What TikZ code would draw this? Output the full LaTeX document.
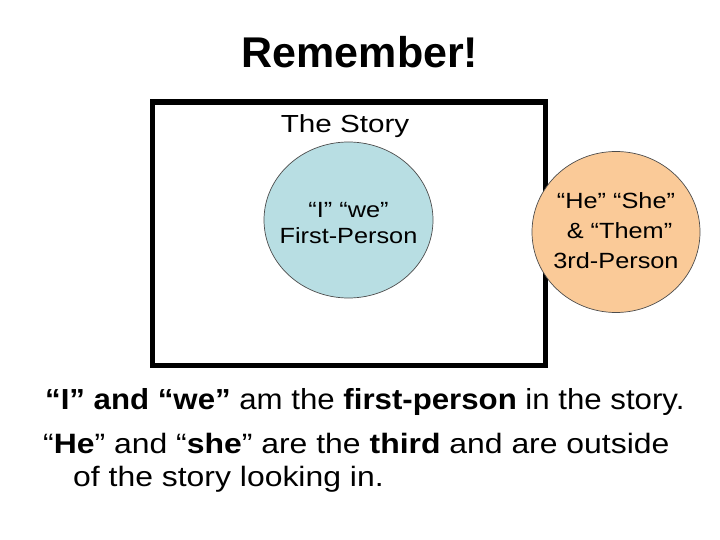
\documentclass[tikz,border=0pt]{standalone}
\usepackage{fontspec}
\setmainfont{Liberation Sans}
\usetikzlibrary{shapes.geometric}
\definecolor{firstblue}{RGB}{184,222,227}
\definecolor{thirdpeach}{RGB}{250,202,152}
\newcommand{\wide}[2]{\scalebox{#1}[1]{#2}}
\begin{document}
\begin{tikzpicture}[x=1pt,y=-1pt,
    bubble/.style={ellipse, draw=black!70, line width=0.7pt, inner sep=0pt},
    bubbletext/.style={inner sep=0pt, align=center},
    note/.style={anchor=base west, inner sep=0pt}]
    \useasboundingbox (0,0) rectangle (720,540);
    \node (title) [anchor=base, inner sep=0pt] at (360,68) {\fontsize{43}{50}\selectfont\bfseries Remember!};
    \node (story) [rectangle, draw=black, line width=5.5pt, minimum width=393pt, minimum height=263.5pt] at (349,233.75) {};
    \node (storylabel) [anchor=base, inner sep=0pt] at (345,133) {\fontsize{24.7}{28}\selectfont\wide{1.2}{The Story}};
    \node (first) [bubble, fill=firstblue, minimum width=169pt, minimum height=156pt] at (348.5,220) {};
    \node (third) [bubble, fill=thirdpeach, minimum width=168pt, minimum height=161pt] at (616,232) {};
    \node (firsttext) [bubbletext] at ([yshift=-5.8pt]first.center)
        {\fontsize{22}{26}\selectfont\wide{1.15}{\begin{tabular}{@{}c@{}}“I” “we”\\ First-Person\end{tabular}}};
    \node (thirdtext) [bubbletext] at (third.center)
        {\fontsize{22}{30}\selectfont\wide{1.15}{\begin{tabular}{@{}c@{}}“He” “She”\\ \ \& “Them”\\ 3rd-Person\end{tabular}}};
    \node (line1) [note] at (45,409) {\fontsize{29}{34}\selectfont\wide{1.076}{\textbf{“I” and “we”} am the \textbf{first-person} in the story.}};
    \node (line2) [note] at (43,453) {\fontsize{28}{32}\selectfont\wide{1.14}{“\textbf{He}” and “\textbf{she}” are the \textbf{third} and are outside}};
    \node (line3) [note] at (73,486) {\fontsize{28}{32}\selectfont\wide{1.14}{of the story looking in.}};
\end{tikzpicture}
\end{document}
